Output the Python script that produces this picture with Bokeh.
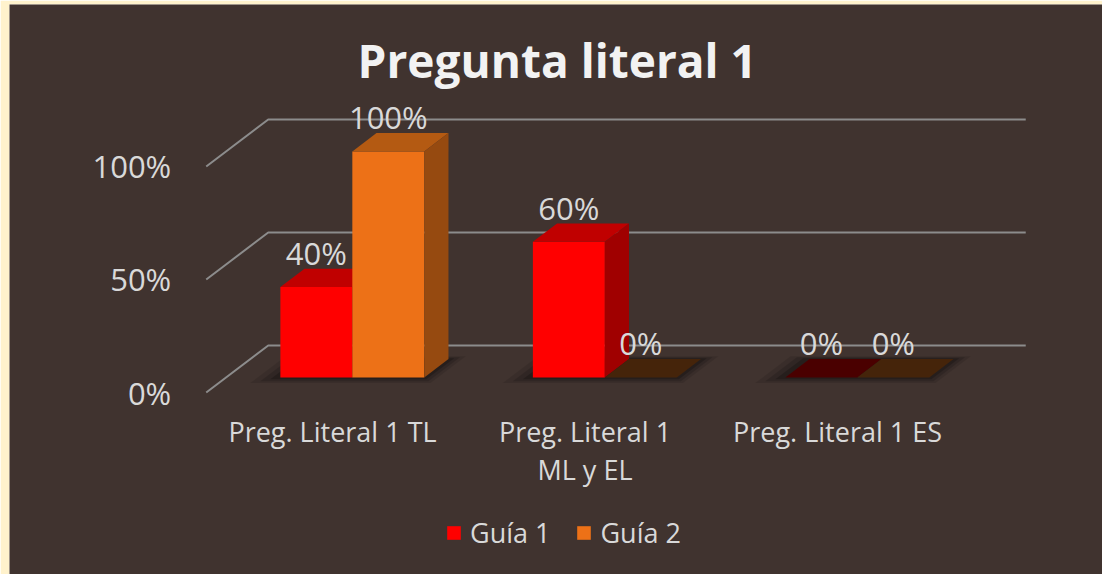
from bokeh.plotting import figure
from bokeh.models import ColumnDataSource, Range1d, Legend, LegendItem
from bokeh.core.properties import value
from bokeh.embed import file_html
from bokeh.resources import INLINE

# ---------------- data ----------------
title_text = "Pregunta literal 1"
categories = ["Preg. Literal 1 TL", "Preg. Literal 1\nML y EL", "Preg. Literal 1 ES"]
series_names = ["Guía 1", "Guía 2"]
guia1 = [0.40, 0.60, 0.00]
guia2 = [1.00, 0.00, 0.00]
y_ticks = [0.0, 0.5, 1.0]
y_tick_labels = ["0%", "50%", "100%"]

# ---------------- style ----------------
BG = "#40332F"
FRAME = "#FFF2CC"
TXT = "#D9D9D9"
GRID = "#8C8C8C"
FONT = "Open Sans"
COLORS = {
    "Guía 1": dict(front="#FF0000", top="#C00000", side="#A00000", zero="#4A0000"),
    "Guía 2": dict(front="#ED7117", top="#B45A12", side="#964A10", zero="#45240A"),
}

# oblique 3D projection (data units)
DX, DY = 0.2455, 0.208   # offset of the back wall
D0, D1 = 0.32, 0.71      # depth span of the bars
BW = 0.285               # width of one bar (category units)
X0, X1 = -0.5, len(categories) - 0.5


def proj(x, v, d):
    return x + d * DX, v + d * DY


def poly(pts):
    return [q[0] for q in pts], [q[1] for q in pts]


p = figure(width=1102, height=574,
           x_range=Range1d(-1.2792, 3.0495), y_range=Range1d(-0.8053, 1.7168),
           output_backend="svg", toolbar_location=None, tools="",
           min_border_left=9, min_border_top=4, min_border_right=0, min_border_bottom=0,
           x_axis_location=None, y_axis_location=None,
           background_fill_color=BG, border_fill_color=FRAME, outline_line_color=None)
p.grid.visible = False

# ---------------- gridlines (left wall + back wall) ----------------
gx, gy = [], []
for v in y_ticks:
    a, b, c = proj(X0, v, 0), proj(X0, v, 1), proj(X1, v, 1)
    gx.append([a[0], b[0], c[0]])
    gy.append([a[1], b[1], c[1]])
p.multi_line(gx, gy, line_color=GRID, line_width=2)

# ---------------- shadows under the bars ----------------
for e, ed, a in [(0.09, 0.12, 0.10), (0.06, 0.08, 0.14), (0.03, 0.04, 0.2)]:
    sx, sy = [], []
    for i in range(len(categories)):
        xs, ys = poly([proj(i - BW - e, 0, D0 - ed), proj(i + BW + e * 0.6, 0, D0 - ed),
                       proj(i + BW + e * 0.6, 0, D1 + ed * 0.5), proj(i - BW - e, 0, D1 + ed * 0.5)])
        sx.append(xs)
        sy.append(ys)
    p.patches(sx, sy, fill_color="black", fill_alpha=a, line_color=None)

# ---------------- bars ----------------
legend_items = []
label_x, label_y, label_t = [], [], []
for s, (name, vals) in enumerate(zip(series_names, [guia1, guia2])):
    col = COLORS[name]
    fx, fy, tx, ty, tc, sx, sy = [], [], [], [], [], [], []
    for i, v in enumerate(vals):
        xl = i - BW + s * BW
        xr = xl + BW
        a, b = poly([proj(xl, 0, D0), proj(xr, 0, D0), proj(xr, v, D0), proj(xl, v, D0)])
        fx.append(a); fy.append(b)
        a, b = poly([proj(xl, v, D0), proj(xr, v, D0), proj(xr, v, D1), proj(xl, v, D1)])
        tx.append(a); ty.append(b)
        tc.append(col["top"] if v > 0 else col["zero"])
        a, b = poly([proj(xr, 0, D0), proj(xr, 0, D1), proj(xr, v, D1), proj(xr, v, D0)])
        sx.append(a); sy.append(b)
        lx, _ = proj(xl + BW / 2, v, D0)
        _, ly = proj(xl + BW / 2, v, D1)
        label_x.append(lx); label_y.append(ly)
        label_t.append(f"{round(v * 100)}%")
    front = p.patches(fx, fy, fill_color=col["front"], line_color=None)
    p.patches(xs="xs", ys="ys", fill_color="c", line_color=None,
              source=ColumnDataSource(dict(xs=tx, ys=ty, c=tc)))
    p.patches(sx, sy, fill_color=col["side"], line_color=None)
    legend_items.append(LegendItem(label=name, renderers=[front]))

# value labels
p.text(x=label_x, y=label_y, text=label_t, y_offset=-16,
       text_align="center", text_baseline="middle",
       text_font=value(FONT), text_font_size="31px", text_color=TXT)

# y tick labels
p.text(x=[X0] * len(y_ticks), y=y_ticks, text=y_tick_labels, x_offset=-35,
       text_align="right", text_baseline="middle",
       text_font=value(FONT), text_font_size="31px", text_color=TXT)

# category labels
p.text(x=list(range(len(categories))), y=[0] * len(categories), text=categories,
       y_offset=20, text_align="center", text_baseline="top", text_line_height=1.03,
       text_font=value(FONT), text_font_size="27px", text_color=TXT)

# title (centred over the chart, above the back wall)
p.text(x=[(X0 + X1) / 2 - 0.11], y=[1.47], text=[title_text],
       text_align="center", text_baseline="alphabetic",
       text_font=value(FONT), text_font_style="bold", text_font_size="46px",
       text_color="#F2F2F2")

# legend
legend = Legend(items=legend_items, orientation="horizontal", location=(436, 23),
                padding=0, margin=0, spacing=25, label_standoff=8,
                glyph_width=17, glyph_height=17, label_height=17,
                label_text_font=FONT, label_text_font_size="27px", label_text_color=TXT,
                background_fill_alpha=0, border_line_color=None)
p.add_layout(legend)

open("out.html", "w").write(file_html(p, INLINE))
